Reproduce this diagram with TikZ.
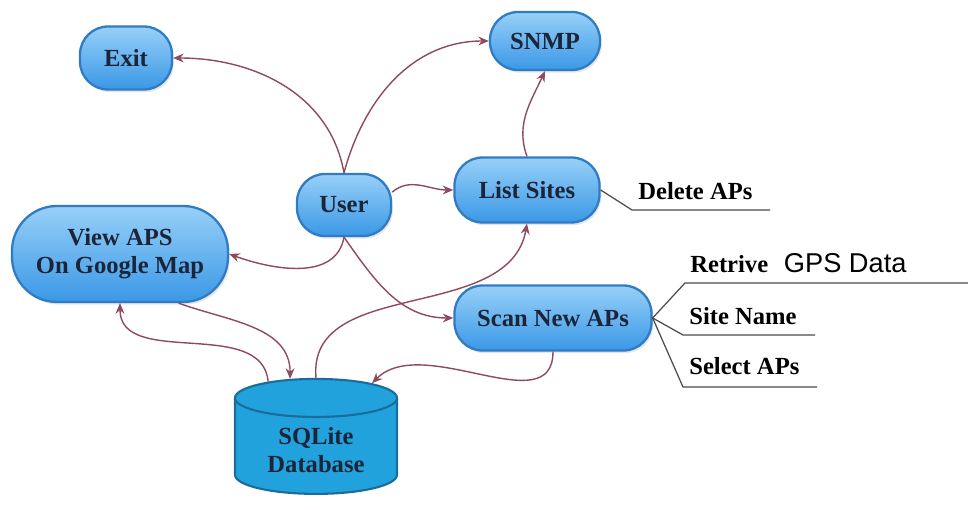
\documentclass[tikz,border=0pt]{standalone}
\usepackage{fontspec}
\setmainfont{Liberation Serif}
\newfontfamily\gpsfont{Liberation Sans}
\usetikzlibrary{arrows.meta,shapes.geometric,shadows}
\definecolor{pilltop}{HTML}{98D0F8}
\definecolor{pillmid}{HTML}{62B4F2}
\definecolor{pillbot}{HTML}{3A98E6}
\definecolor{pilledge}{HTML}{2F7CC4}
\definecolor{inkblue}{HTML}{1B2438}
\definecolor{dbfill}{HTML}{22A2DC}
\definecolor{dbedge}{HTML}{1B6C9A}
\definecolor{linkred}{HTML}{8E4A5E}
\definecolor{branchgray}{HTML}{4A4A4A}

\begin{document}
\begin{tikzpicture}[
        pill/.style={rectangle, rounded corners=0.56cm, draw=pilledge, line width=1.3pt,
            top color=pilltop, middle color=pillmid, bottom color=pillbot,
            text=inkblue, font=\fontsize{14}{16}\selectfont\bfseries, align=center,
            drop shadow={opacity=0.2, shadow xshift=1pt, shadow yshift=-1.5pt}},
        store/.style={cylinder, shape border rotate=90, aspect=0.35, draw=dbedge, line width=1.2pt,
            fill=dbfill, text=inkblue, font=\fontsize{14}{16}\selectfont\bfseries, align=center},
        link/.style={-{Stealth[length=6pt, width=5pt]}, linkred, line width=0.8pt},
        branch/.style={branchgray, line width=0.7pt},
        item/.style={anchor=base west, inner sep=0pt, text=black, font=\fontsize{14}{16}\selectfont\bfseries}
    ]
        \useasboundingbox (0,0) rectangle (19.36,-10.2);

        % Bubbles
        \node[pill, minimum width=1.84cm, minimum height=1.26cm] (exit) at (2.52, -1.16) {Exit};
        \node[pill, minimum width=2.2cm, minimum height=1.16cm] (snmp) at (10.9, -0.82) {SNMP};
        \node[pill, minimum width=1.88cm, minimum height=1.24cm] (user) at (6.88, -4.1) {User};
        \node[pill, minimum width=2.9cm, minimum height=1.3cm] (list) at (10.54, -3.8) {List Sites};
        \node[pill, rounded corners=0.9cm, minimum width=4.32cm, minimum height=1.92cm] (view) at (2.4, -5.08) {View APS\\On Google Map};
        \node[pill, minimum width=3.94cm, minimum height=1.3cm] (scan) at (11.06, -6.36) {Scan New APs};
        \node[store, minimum width=3.24cm, minimum height=2.3cm] (db) at (6.32, -9.0) {SQLite\\Database};

        % Links
        \draw[link] (user.north) to[out=100, in=0] (exit.east);
        \draw[link] (user.north) to[out=75, in=180] (snmp.west);
        \draw[link] (user.15) to[out=40, in=180] (list.west);
        \draw[link] (list.north) to[out=110, in=-115] (snmp.south);
        \draw[link] (user.south) to[out=-100, in=-20] (view.east);
        \draw[link] (user.south) to[out=-55, in=180] (scan.west);
        \draw[link] (view.-40) to[out=-20, in=90] (db.110);
        \draw[link] (db.125) to[out=95, in=-90] (view.south);
        \draw[link] (db.north) to[out=95, in=-100] (list.south);
        \draw[link] (scan.south) to[out=-90, in=45] (db.50);

        % Branches
        \coordinate (delA) at (12.64, -4.2);
        \coordinate (delB) at (15.4, -4.2);
        \draw[branch] (list.east) -- (delA) -- (delB);
        \node[item] (delete) at ([xshift=0.12cm, yshift=0.2cm]delA) {Delete APs};

        \coordinate (gpsA) at (13.7, -5.66);
        \coordinate (gpsB) at (19.36, -5.66);
        \draw[branch] (scan.east) -- (gpsA) -- (gpsB);
        \node[item] (retrive) at ([xshift=0.1cm, yshift=0.2cm]gpsA) {Retrive};
        \node[item, font=\fontsize{15.5}{17}\selectfont\gpsfont] (gps) at ([xshift=0.3cm]retrive.base east) {GPS Data};

        \coordinate (siteA) at (13.66, -6.7);
        \coordinate (siteB) at (16.3, -6.7);
        \draw[branch] (scan.east) -- (siteA) -- (siteB);
        \node[item] (site) at ([xshift=0.12cm, yshift=0.2cm]siteA) {Site Name};

        \coordinate (selA) at (13.66, -7.74);
        \coordinate (selB) at (16.34, -7.74);
        \draw[branch] (scan.east) -- (selA) -- (selB);
        \node[item] (select) at ([xshift=0.12cm, yshift=0.24cm]selA) {Select APs};
\end{tikzpicture}
\end{document}
